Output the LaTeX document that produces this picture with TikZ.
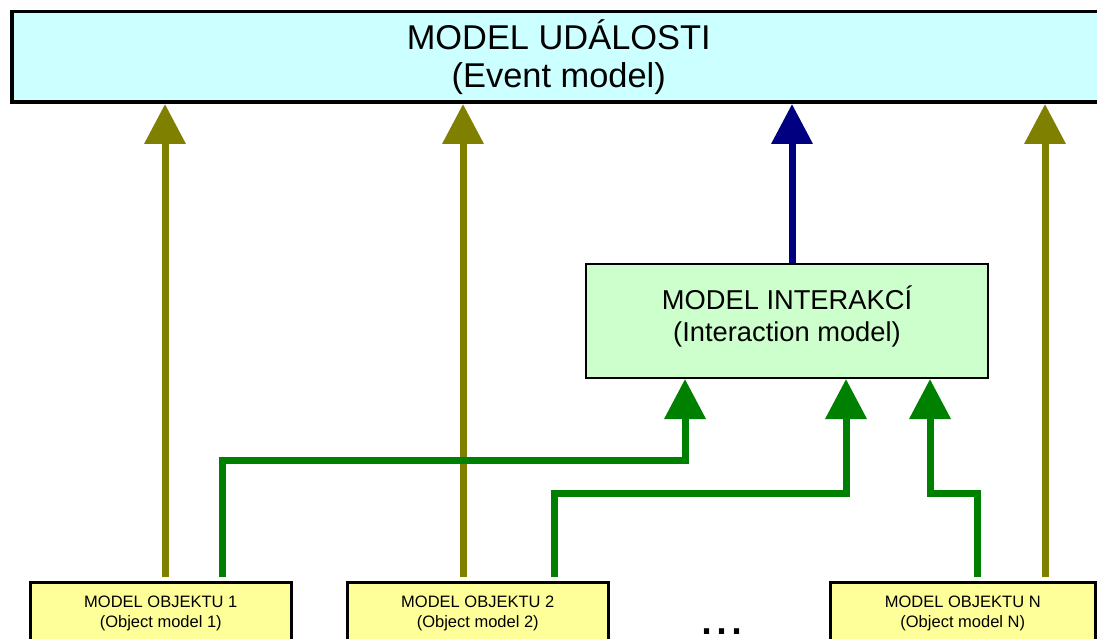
\documentclass[tikz,border=0pt]{standalone}
\usepackage{fontspec}
\setmainfont{Liberation Sans}
\usetikzlibrary{arrows.meta}
\definecolor{evfill}{HTML}{CCFFFF}
\definecolor{infill}{HTML}{CCFFCC}
\definecolor{obfill}{HTML}{FFFF99}
\definecolor{olivec}{HTML}{808000}
\definecolor{greenc}{HTML}{008000}
\definecolor{navyc}{HTML}{000080}
\begin{document}
\begin{tikzpicture}[x=1pt,y=-1pt,
  evbox/.style={draw=black, line width=3.5pt, fill=evfill, anchor=north west,
    minimum width=1094pt, minimum height=90.5pt, inner sep=0pt, align=center,
    font=\fontsize{34.4}{38}\selectfont},
  inbox/.style={draw=black, line width=2pt, fill=infill, anchor=north west,
    minimum width=402pt, minimum height=114pt, inner sep=0pt, align=center,
    font=\fontsize{27.3}{32}\selectfont},
  obbox/.style={draw=black, line width=2.5pt, fill=obfill, anchor=north west,
    inner xsep=0pt, inner ysep=14pt, align=center,
    font=\fontsize{16.5}{20}\selectfont},
  tip/.style={-{Triangle[length=40pt,width=40pt]}},
  olivearr/.style={tip, draw=olivec, line width=7pt},
  greenarr/.style={tip, draw=greenc, line width=7pt},
  bluearr/.style={tip, draw=navyc, line width=7pt},
]
\useasboundingbox (0,0) rectangle (1097,639);
\clip (0,0) rectangle (1097,639);

\node[evbox] (top) at (10,10) {MODEL UDÁLOSTI\\(Event model)};
\node[inbox] (int) at (585,263) {MODEL INTERAKCÍ\\(Interaction model)\rule[-15pt]{0pt}{15pt}};
\node[obbox, minimum width=261pt] (o1) at (29,581) {MODEL OBJEKTU 1\\(Object model 1)};
\node[obbox, minimum width=261pt] (o2) at (346,581) {MODEL OBJEKTU 2\\(Object model 2)};
\node[obbox, minimum width=265pt] (oN) at (829,581) {MODEL OBJEKTU N\\(Object model N)};
\node[anchor=base, font=\fontsize{54}{60}\selectfont, inner sep=0pt] (dots) at (722,634) {...};

\coordinate (cA) at (165,0);
\coordinate (cB) at (222,0);
\coordinate (cC) at (463,0);
\coordinate (cD) at (554,0);
\coordinate (cF) at (792,0);
\coordinate (cI) at (977,0);
\coordinate (cJ) at (1045,0);
\coordinate (b1) at (685,460);
\coordinate (b2) at (846,493);
\coordinate (b3) at (930,493);

\draw[olivearr, shorten <=4pt] (o1.north -| cA) -- (top.south -| cA);
\draw[olivearr, shorten <=4pt] (o2.north -| cC) -- (top.south -| cC);
\draw[olivearr, shorten <=4pt] (oN.north -| cJ) -- (top.south -| cJ);
\draw[bluearr] (int.north -| cF) -- (top.south -| cF);

\draw[greenarr, shorten <=4pt] (o1.north -| cB) |- (b1) -- (b1 |- int.south);
\draw[greenarr, shorten <=4pt] (o2.north -| cD) |- (b2) -- (b2 |- int.south);
\draw[greenarr, shorten <=4pt] (oN.north -| cI) |- (b3) -- (b3 |- int.south);
\end{tikzpicture}
\end{document}
